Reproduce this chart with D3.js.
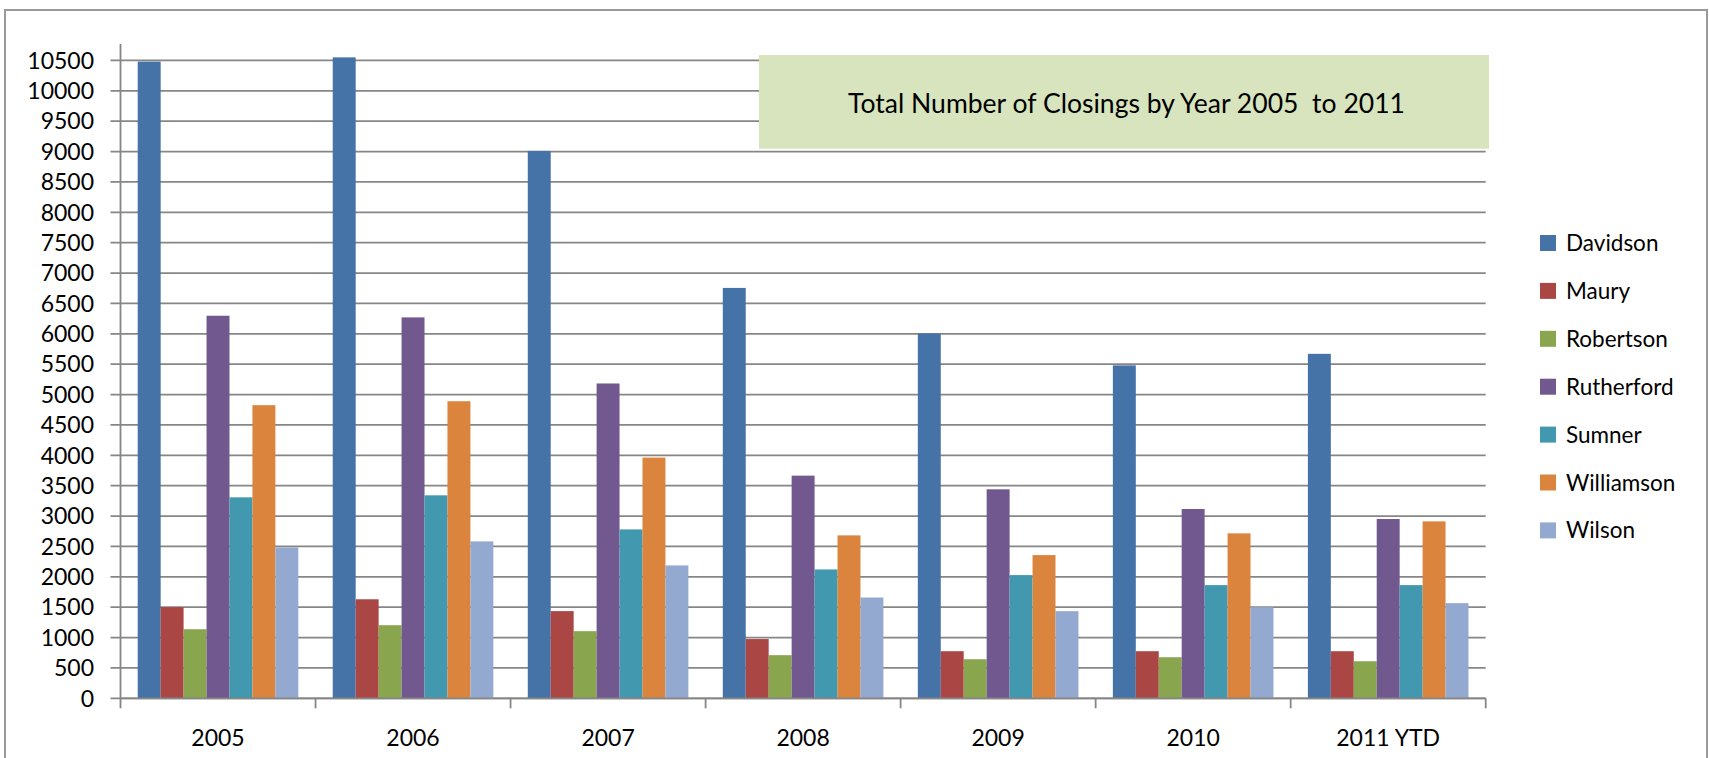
<!DOCTYPE html>
<html>
<head>
<meta charset="utf-8">
<script src="https://cdn.jsdelivr.net/npm/d3@7"></script>
<style>
  html, body { margin: 0; padding: 0; background: #ffffff; }
  svg { display: block; font-family: Lato, "Open Sans", sans-serif; }
</style>
</head>
<body>
<svg id="chart" width="1709" height="758"></svg>
<script>
const categories = ["2005", "2006", "2007", "2008", "2009", "2010", "2011 YTD"];
const seriesNames = ["Davidson", "Maury", "Robertson", "Rutherford", "Sumner", "Williamson", "Wilson"];
const davidson   = [10480, 10550, 9010, 6755, 6005, 5480, 5670];
const maury      = [1500, 1630, 1435, 975, 775, 775, 775];
const robertson  = [1137, 1203, 1105, 710, 643, 676, 610];
const rutherford = [6297, 6270, 5182, 3665, 3440, 3116, 2951];
const sumner     = [3308, 3341, 2780, 2121, 2028, 1863, 1863];
const williamson = [4825, 4890, 3962, 2682, 2357, 2715, 2912];
const wilson     = [2484, 2583, 2187, 1659, 1434, 1500, 1566];
const yTicks = [0,500,1000,1500,2000,2500,3000,3500,4000,4500,5000,5500,6000,6500,7000,7500,8000,8500,9000,9500,10000,10500];
const colors = ["#4572A7", "#AA4643", "#89A54E", "#71588F", "#4198AF", "#DB843D", "#93A9CF"];
const titleText = "Total Number of Closings by Year 2005  to 2011";

const seriesValues = [davidson, maury, robertson, rutherford, sumner, williamson, wilson];

const svg = d3.select("#chart");
const plot = { left: 120.5, right: 1485.7, top: 44, bottom: 698.3 };

// outer border
svg.append("rect")
  .attr("x", 5).attr("y", 10).attr("width", 1702).attr("height", 760)
  .attr("fill", "#fff").attr("stroke", "#999").attr("stroke-width", 2);

const x0 = d3.scaleBand().domain(categories).range([plot.left, plot.right]).padding(0);
const x1 = d3.scaleBand().domain(seriesNames).range([0, x0.bandwidth()]).paddingInner(0).paddingOuter(0.75);
const y = d3.scaleLinear().domain([0, 10770]).range([plot.bottom, plot.top]);

// gridlines + y ticks
const grid = svg.append("g");
grid.selectAll("line").data(yTicks).join("line")
  .attr("x1", plot.left - 10).attr("x2", plot.right)
  .attr("y1", d => y(d)).attr("y2", d => y(d))
  .attr("stroke", "#868686").attr("stroke-width", 1.8);

// y axis line
svg.append("line")
  .attr("x1", plot.left).attr("x2", plot.left)
  .attr("y1", plot.top).attr("y2", plot.bottom)
  .attr("stroke", "#868686").attr("stroke-width", 1.8);

// y labels
svg.append("g").selectAll("text").data(yTicks).join("text")
  .attr("x", 94).attr("y", d => y(d)).attr("dy", "0.36em")
  .attr("text-anchor", "end").attr("font-size", 23).attr("fill", "#000")
  .text(d => d);

// bars
const groups = svg.append("g").selectAll("g").data(categories).join("g")
  .attr("transform", d => `translate(${x0(d)},0)`);
groups.selectAll("rect")
  .data((c, ci) => seriesNames.map((s, si) => ({ s, si, v: seriesValues[si][ci] })))
  .join("rect")
  .attr("x", d => x1(d.s))
  .attr("width", x1.bandwidth())
  .attr("y", d => y(d.v))
  .attr("height", d => y(0) - y(d.v))
  .attr("fill", d => colors[d.si]);

// x axis line
svg.append("line")
  .attr("x1", plot.left).attr("x2", plot.right)
  .attr("y1", y(0)).attr("y2", y(0))
  .attr("stroke", "#868686").attr("stroke-width", 1.8);

// x ticks at category boundaries
const bounds = categories.map(c => x0(c)).concat([plot.right]);
svg.append("g").selectAll("line").data(bounds).join("line")
  .attr("x1", d => d).attr("x2", d => d)
  .attr("y1", y(0)).attr("y2", y(0) + 10)
  .attr("stroke", "#868686").attr("stroke-width", 1.8);

// x labels
svg.append("g").selectAll("text").data(categories).join("text")
  .attr("x", d => x0(d) + x0.bandwidth() / 2).attr("y", 746)
  .attr("text-anchor", "middle").attr("font-size", 23).attr("fill", "#000")
  .text(d => d);

// title box
svg.append("rect")
  .attr("x", 759).attr("y", 55).attr("width", 730).attr("height", 93.7)
  .attr("fill", "#D7E4BD");
svg.append("text")
  .attr("x", 848).attr("y", 112.7)
  .attr("font-size", 27).attr("fill", "#000")
  .style("white-space", "pre")
  .attr("textLength", 557).attr("lengthAdjust", "spacingAndGlyphs")
  .text(titleText);

// legend
const legend = svg.append("g").selectAll("g").data(seriesNames).join("g")
  .attr("transform", (d, i) => `translate(1540, ${235 + i * 47.9})`);
legend.append("rect")
  .attr("width", 16).attr("height", 16)
  .attr("fill", (d, i) => colors[i]);
legend.append("text")
  .attr("x", 26).attr("y", 16)
  .attr("font-size", 22.5).attr("fill", "#000")
  .text(d => d);
</script>
</body>
</html>
